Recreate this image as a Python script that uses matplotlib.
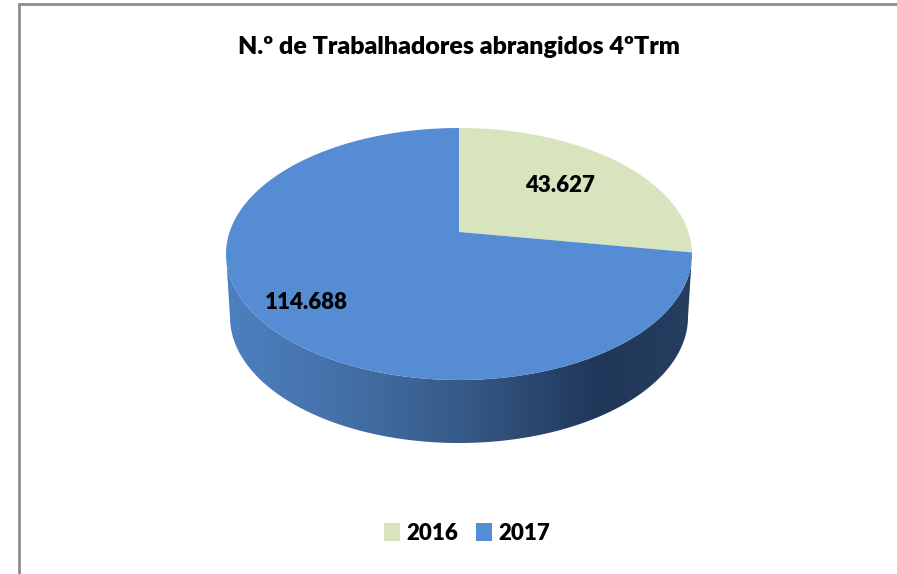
import numpy as np
import matplotlib
matplotlib.use('Agg')
import matplotlib.pyplot as plt
from matplotlib.patches import Polygon
from matplotlib.colors import LinearSegmentedColormap

# dados
anos = ['2016', '2017']
trabalhadores = [43627, 114688]
rotulos = ['43.627', '114.688']
cores = ['#d7e4bd', '#558cd3']
titulo = 'N.º de Trabalhadores abrangidos 4ºTrm'

plt.rcParams['font.family'] = ['Lato', 'DejaVu Sans']

fig = plt.figure(figsize=(8.97, 5.74), dpi=100)
ax = fig.add_axes([0, 0, 1, 1])
ax.set_xlim(0, 897)
ax.set_ylim(574, 0)
ax.axis('off')

# moldura cinzenta (so esquerda e topo ficam visiveis)
ax.plot([19, 19, 920], [600, 4, 4], color='#8c8c8c', lw=2, solid_joinstyle='miter')

# geometria da "pizza 3D" (em pixels)
cx, cy = 459, 254          # centro da elipse de cima
a, b = 233, 126            # raios da elipse de cima
prof = 63                  # espessura
a_baixo = 229
vx, vy = cx, cy - 22       # vertice (perspectiva)


def ponto_borda(theta):
    # raio a partir do vertice na direcao do angulo, intersectado com a elipse
    dx = a * np.cos(theta)
    dy = -b * np.sin(theta)
    px, py = vx - cx, vy - cy
    A = (dx / a) ** 2 + (dy / b) ** 2
    B = 2 * (px * dx / a ** 2 + py * dy / b ** 2)
    C = (px / a) ** 2 + (py / b) ** 2 - 1
    t = (-B + np.sqrt(B * B - 4 * A * C)) / (2 * A)
    return vx + t * dx, vy + t * dy


# lateral (frente) com gradiente
ang = np.linspace(np.pi, 2 * np.pi, 200)
topo = np.column_stack([cx + a * np.cos(ang), cy - b * np.sin(ang)])
base = np.column_stack([cx + a_baixo * np.cos(ang[::-1]), cy + prof - b * np.sin(ang[::-1])])
lateral = Polygon(np.vstack([topo, base]), closed=True, facecolor='none', edgecolor='none')
ax.add_patch(lateral)
grad_cmap = LinearSegmentedColormap.from_list('lat', [
    (0.0, '#4d80bf'), (0.25, '#4470a8'), (0.5, '#375b88'),
    (0.8, '#20375a'), (1.0, '#263e60')])
grad = np.linspace(0, 1, 256).reshape(1, -1)
im = ax.imshow(grad, cmap=grad_cmap, aspect='auto',
               extent=(cx - a, cx + a, cy + prof + b + 2, cy - 5), zorder=1)
im.set_clip_path(lateral)
ax.set_xlim(0, 897)
ax.set_ylim(574, 0)

# fatias do topo (comecam nas 12h, sentido horario)
total = sum(trabalhadores)
inicio = np.pi / 2
fatias = []
raio_rotulo = [0.57, 0.86]
for i, v in enumerate(trabalhadores):
    fim = inicio - 2 * np.pi * v / total
    th = np.linspace(inicio, fim, 200)
    pts = [ponto_borda(t) for t in th]
    poly = Polygon([(vx, vy)] + pts, closed=True, facecolor=cores[i],
                   edgecolor='none', zorder=2, label=anos[i])
    ax.add_patch(poly)
    fatias.append(poly)
    meio = (inicio + fim) / 2
    lx = vx + raio_rotulo[i] * a * np.cos(meio)
    ly = vy - raio_rotulo[i] * b * np.sin(meio)
    ax.text(lx, ly, rotulos[i], ha='center', va='center', fontsize=16,
            fontweight='heavy', color='black', zorder=3)
    inicio = fim

ax.text(459, 47, titulo, ha='center', va='center', fontsize=18,
        fontweight='heavy', color='black')

fig.legend(handles=fatias, labels=anos, loc='center', bbox_to_anchor=(0.521, 1 - 533 / 574),
           ncol=2, frameon=False, prop={'weight': 'heavy', 'size': 16},
           handlelength=0.7, handleheight=0.9, handletextpad=0.3, columnspacing=0.8)

fig.savefig('out.png', dpi=100)
